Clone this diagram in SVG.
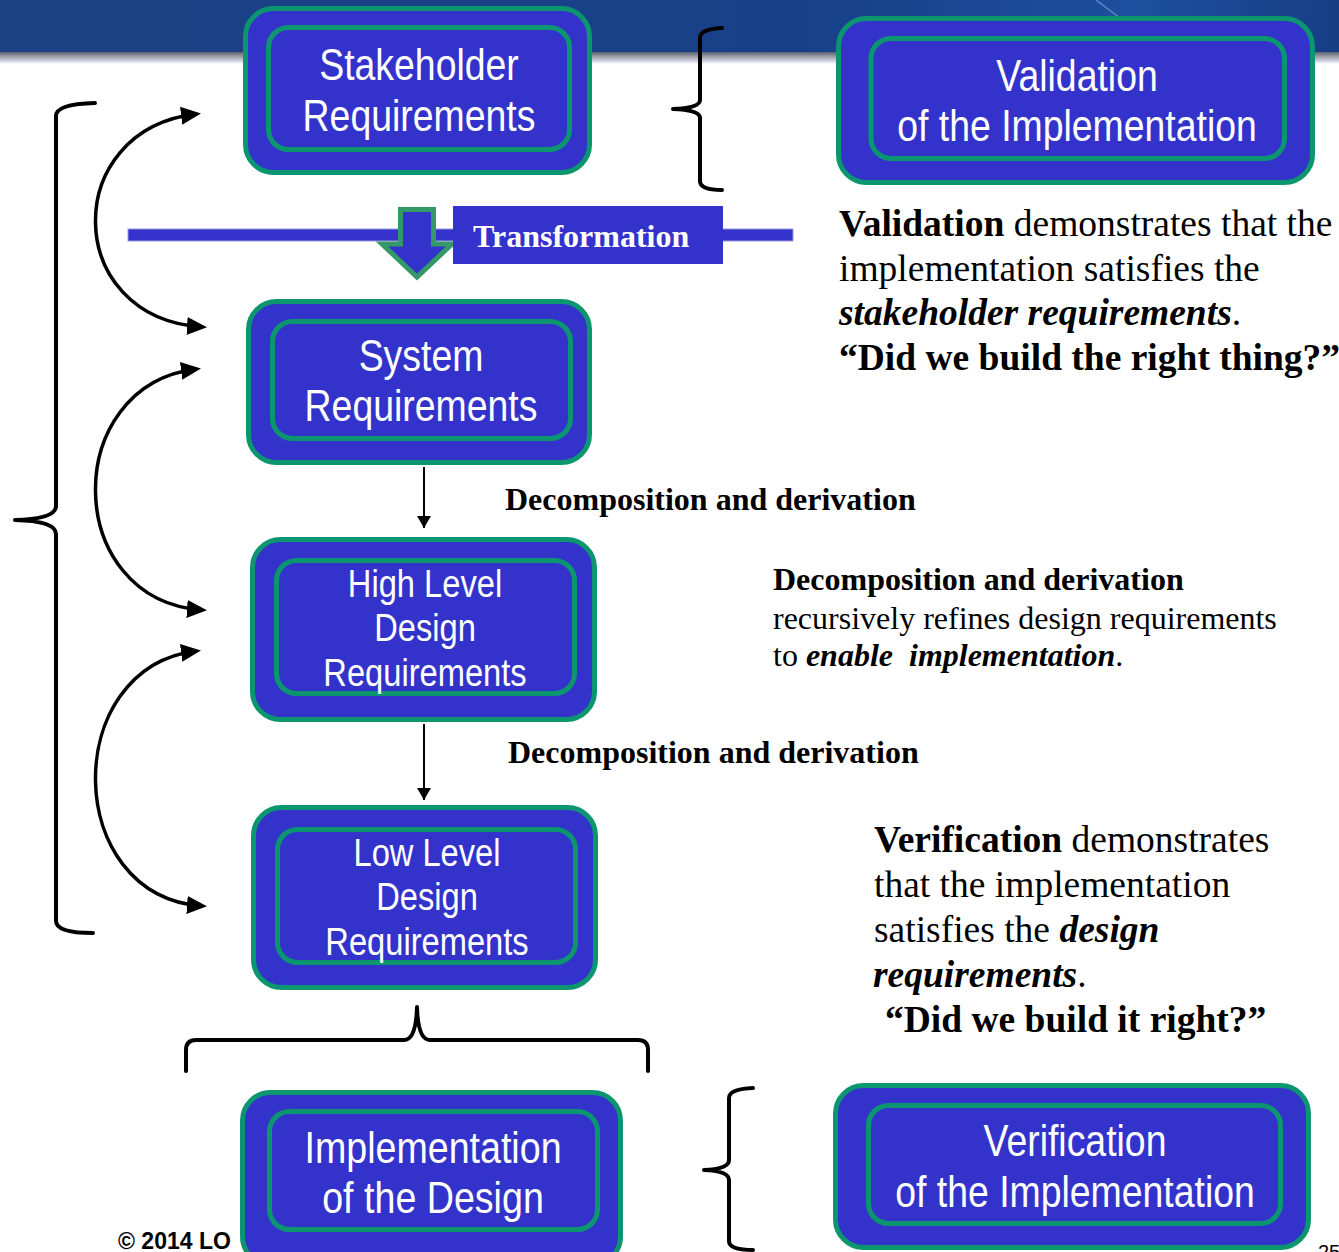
<svg xmlns="http://www.w3.org/2000/svg" width="1339" height="1252" viewBox="0 0 1339 1252">
<defs>
<linearGradient id="ban" x1="0" y1="0" x2="1" y2="0">
<stop offset="0" stop-color="#1c4284"/>
<stop offset="0.6" stop-color="#174088"/>
<stop offset="0.85" stop-color="#1d4f9e"/>
<stop offset="1" stop-color="#163e85"/>
</linearGradient>
<linearGradient id="fade" x1="0" y1="0" x2="0" y2="1">
<stop offset="0" stop-color="#5a5f78"/>
<stop offset="0.35" stop-color="#9a9a9e"/>
<stop offset="0.7" stop-color="#c9c9dc"/>
<stop offset="1" stop-color="#ffffff"/>
</linearGradient>
<marker id="ah" markerUnits="userSpaceOnUse" markerWidth="20" markerHeight="18" viewBox="0 0 20 18" refX="15" refY="9" orient="auto-start-reverse">
<path d="M0,0 L20,9 L0,18 z" fill="#000"/>
</marker>
<marker id="sa" markerUnits="userSpaceOnUse" markerWidth="12" markerHeight="14" viewBox="0 0 12 14" refX="12" refY="7" orient="auto">
<path d="M0,0 L12,7 L0,14 z" fill="#000"/>
</marker>
</defs>
<style>
.outer{fill:#3333cc;stroke:#0b9670;stroke-width:5}
.inner{fill:#3333cc;stroke:#0b9670;stroke-width:5}
.nl{font-family:"Liberation Sans",Arial,sans-serif;fill:#fff;text-anchor:middle}
.f44{font-size:44px}
.f38{font-size:38px}
.sr{font-family:"Liberation Serif","Times New Roman",serif;fill:#000}
.s38{font-size:37.5px}
.s32{font-size:32px}
.b{font-weight:bold}
.bi{font-weight:bold;font-style:italic}
.brace{fill:none;stroke:#000;stroke-width:4;stroke-linecap:round;stroke-linejoin:round}
.arc{fill:none;stroke:#000;stroke-width:3.5}
</style>
<rect width="1339" height="1252" fill="#fff"/>
<g id="banner">
<rect x="0" y="0" width="1339" height="53" fill="url(#ban)"/>
<rect x="0" y="52" width="1339" height="12" fill="url(#fade)"/>
<path d="M1096,0 L1120,18" stroke="#8fb0e0" stroke-width="1.5" opacity="0.6"/>
</g>
<text class="b" x="118" y="1249" font-family="Liberation Sans,Arial,sans-serif" font-size="23" fill="#000">© 2014 LO</text>
<text x="1318" y="1259" font-family="Liberation Sans,Arial,sans-serif" font-size="20" fill="#000">25</text>
<g id="connectors">
<path class="brace" d="M95,103 Q56,104 56,116 L56,506 Q56,519 15,520 Q56,521 56,534 L56,921 Q56,933 93,933"/>
<path class="brace" d="M722,28 Q700,29 700,38 L700,100 Q700,108 673,109 Q700,110 700,118 L700,181 Q700,190 722,190"/>
<path class="brace" d="M753,1088 Q729,1089 729,1098 L729,1160 Q729,1169 704,1170 Q729,1171 729,1180 L729,1241 Q729,1250 753,1250"/>
<path class="brace" d="M186,1071 L186,1050 Q186,1040 196,1040 L404,1040 Q416,1040 417,1007 Q418,1040 430,1040 L638,1040 Q648,1040 648,1050 L648,1071"/>
<path class="arc" d="M196,114 C60,130 62,318 202,327" marker-start="url(#ah)" marker-end="url(#ah)"/>
<path class="arc" d="M196,369 C60,386 62,600 202,610" marker-start="url(#ah)" marker-end="url(#ah)"/>
<path class="arc" d="M196,651 C60,668 62,896 202,906" marker-start="url(#ah)" marker-end="url(#ah)"/>
<line x1="424" y1="467" x2="424" y2="528" stroke="#000" stroke-width="2" marker-end="url(#sa)"/>
<line x1="424" y1="724" x2="424" y2="800" stroke="#000" stroke-width="2" marker-end="url(#sa)"/>
</g>
<g id="transformation">
<rect x="128" y="229" width="665" height="12" fill="#3333cc" stroke="#9a9ae0" stroke-width="1"/>
<polygon points="400.5,209.5 433.5,209.5 433.5,244 452,244 417,277 382,244 400.5,244" fill="#3333cc" stroke="#339966" stroke-width="5"/>
<rect x="453" y="206" width="270" height="58" fill="#3333cc"/>
<text class="sr s32 b" x="473" y="247" style="fill:#fff">Transformation</text>
</g>
<g id="stakeholder">
<rect class="outer" x="245.5" y="8.5" width="344" height="164" rx="28"/>
<rect class="inner" x="268.5" y="27.5" width="301" height="122" rx="20"/>
<text class="nl f44" transform="translate(419 80) scale(0.85 1)">Stakeholder</text>
<text class="nl f44" transform="translate(419 131) scale(0.85 1)">Requirements</text>
</g>
<g id="validation">
<rect class="outer" x="838.5" y="18.5" width="474" height="164" rx="28"/>
<rect class="inner" x="871" y="38.5" width="413.5" height="120" rx="20"/>
<text class="nl f44" transform="translate(1077 91) scale(0.85 1)">Validation</text>
<text class="nl f44" transform="translate(1077 141) scale(0.85 1)">of the Implementation</text>
</g>
<g id="system">
<rect class="outer" x="248.5" y="301.5" width="341" height="161" rx="28"/>
<rect class="inner" x="272.5" y="321.5" width="298" height="117" rx="20"/>
<text class="nl f44" transform="translate(421 371) scale(0.85 1)">System</text>
<text class="nl f44" transform="translate(421 421) scale(0.85 1)">Requirements</text>
</g>
<g id="highlevel">
<rect class="outer" x="252.5" y="539.5" width="342" height="180" rx="28"/>
<rect class="inner" x="276.5" y="560.5" width="298" height="133" rx="20"/>
<text class="nl f38" transform="translate(425 597) scale(0.86 1)">High Level</text>
<text class="nl f38" transform="translate(425 641) scale(0.86 1)">Design</text>
<text class="nl f38" transform="translate(425 686) scale(0.86 1)">Requirements</text>
</g>
<g id="lowlevel">
<rect class="outer" x="253.5" y="807.5" width="342" height="180" rx="28"/>
<rect class="inner" x="277.5" y="829.5" width="298" height="133" rx="20"/>
<text class="nl f38" transform="translate(427 866) scale(0.86 1)">Low Level</text>
<text class="nl f38" transform="translate(427 910) scale(0.86 1)">Design</text>
<text class="nl f38" transform="translate(427 955) scale(0.86 1)">Requirements</text>
</g>
<g id="implementation">
<rect class="outer" x="242.5" y="1092.5" width="378" height="172" rx="28"/>
<rect class="inner" x="269.5" y="1111.5" width="328" height="118" rx="20"/>
<text class="nl f44" transform="translate(433 1163) scale(0.855 1)">Implementation</text>
<text class="nl f44" transform="translate(433 1213) scale(0.855 1)">of the Design</text>
</g>
<g id="verification">
<rect class="outer" x="835.5" y="1085.5" width="473" height="162" rx="28"/>
<rect class="inner" x="868.5" y="1105.5" width="412" height="118" rx="20"/>
<text class="nl f44" transform="translate(1075 1156) scale(0.85 1)">Verification</text>
<text class="nl f44" transform="translate(1075 1207) scale(0.85 1)">of the Implementation</text>
</g>
<g id="labels">
<text class="sr s38" x="839" y="236"><tspan class="b">Validation</tspan> demonstrates that the</text>
<text class="sr s38" x="839" y="281">implementation satisfies the</text>
<text class="sr s38" x="839" y="325"><tspan class="bi">stakeholder requirements</tspan>.</text>
<text class="sr s38 b" x="839" y="370">“Did we build the right thing?”</text>
<text class="sr s32 b" x="505" y="510">Decomposition and derivation</text>
<text class="sr s32 b" x="508" y="763">Decomposition and derivation</text>
<text class="sr s32 b" x="773" y="590">Decomposition and derivation</text>
<text class="sr s32" x="773" y="629">recursively refines design requirements</text>
<text class="sr s32" x="773" y="666">to <tspan class="bi">enable&#160; implementation</tspan>.</text>
<text class="sr s38" x="874" y="852"><tspan class="b">Verification</tspan> demonstrates</text>
<text class="sr s38" x="874" y="897">that the implementation</text>
<text class="sr s38" x="874" y="942">satisfies the <tspan class="bi">design</tspan></text>
<text class="sr s38" x="873" y="987"><tspan class="bi">requirements</tspan>.</text>
<text class="sr s38 b" x="885" y="1032">“Did we build it right?”</text>
</g>
</svg>
